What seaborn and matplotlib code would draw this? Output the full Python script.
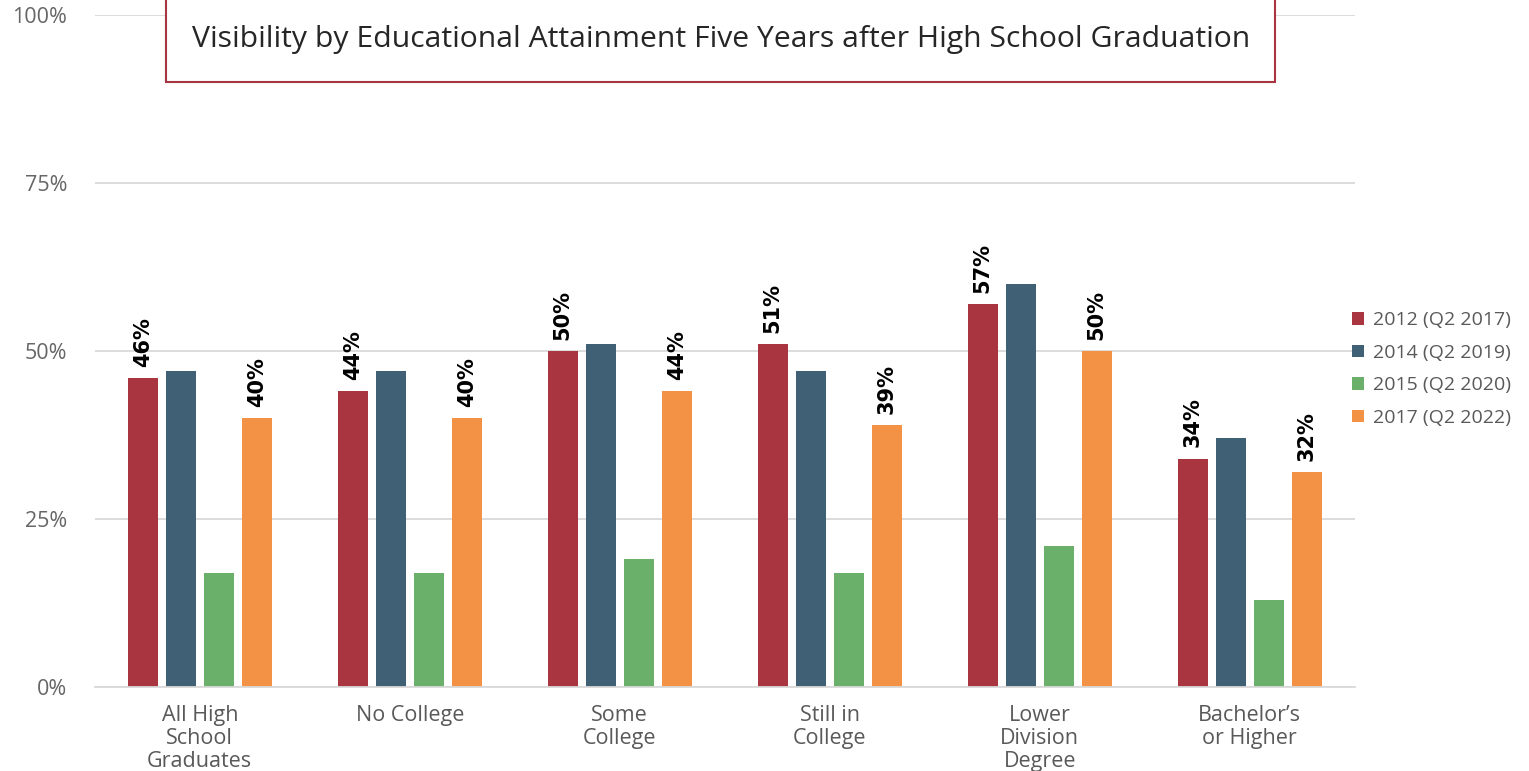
import matplotlib
matplotlib.use("Agg")
import matplotlib.pyplot as plt
import seaborn as sns
import pandas as pd
from matplotlib.patches import Rectangle

categories = ["All High\nSchool\nGraduates", "No College", "Some\nCollege", "Still in\nCollege",
              "Lower\nDivision\nDegree", "Bachelor\u2019s\nor Higher"]
series_names = ["2012 (Q2 2017)", "2014 (Q2 2019)", "2015 (Q2 2020)", "2017 (Q2 2022)"]
v2012 = [46, 44, 50, 51, 57, 34]
v2014 = [47, 47, 51, 47, 60, 37]
v2015 = [17, 17, 19, 17, 21, 13]
v2017 = [40, 40, 44, 39, 50, 32]
labeled_series = ["2012 (Q2 2017)", "2017 (Q2 2022)"]
yticks = [0, 25, 50, 75, 100]
title_line = "Visibility by Educational Attainment Five Years after High School Graduation"
colors = ["#A93540", "#3F6075", "#6AAF6A", "#F39244"]

rows = []
for name, vals in zip(series_names, [v2012, v2014, v2015, v2017]):
    for c, v in zip(categories, vals):
        rows.append({"cat": c, "series": name, "val": v / 100})
df = pd.DataFrame(rows)

sns.set_theme(style="white")
plt.rcParams['font.family'] = ['Open Sans', 'DejaVu Sans']

fig = plt.figure(figsize=(15.29, 7.71), dpi=100)
ax = fig.add_axes([0.062, 0.109, 0.824, 0.8715])
sns.barplot(data=df, x="cat", y="val", hue="series", palette=colors, order=categories,
            hue_order=series_names, width=0.724, gap=0.21, ax=ax, saturation=1, legend=True,
            linewidth=0)

ax.set_ylim(0, 1)
ax.set_yticks([t / 100 for t in yticks])
ax.set_yticklabels([f"{t}%" for t in yticks], color="#666666", fontsize=15.5)
ax.yaxis.grid(True, color="#D9D9D9", linewidth=1.3)
ax.set_axisbelow(True)
for s in ["top", "right", "left"]:
    ax.spines[s].set_visible(False)
ax.spines["bottom"].set_color("#D9D9D9")
ax.spines["bottom"].set_linewidth(1.3)
ax.tick_params(axis="y", length=0, pad=20)
ax.tick_params(axis="x", length=0, pad=13)
ax.set_xlabel("")
ax.set_ylabel("")
for lbl in ax.get_xticklabels():
    lbl.set_color("#595959")
    lbl.set_fontsize(15.5)
    lbl.set_linespacing(1.12)

for cont, name in zip(ax.containers, series_names):
    if name in labeled_series:
        ax.bar_label(cont, labels=[f"{int(round(b.get_height()*100))}%" for b in cont],
                     rotation=90, padding=8, fontsize=15, fontweight="bold", color="black",
                     family=['Liberation Sans Narrow', 'DejaVu Sans'])

leg = ax.legend(loc="center left", bbox_to_anchor=(0.984, 0.473), frameon=False,
                fontsize=14, handlelength=0.6, handleheight=0.6, labelspacing=0.75,
                handletextpad=0.5)
for t in leg.get_texts():
    t.set_color("#595959")

fig.patches.append(Rectangle((166 / 1529, 1 - 82 / 771), (1275 - 166) / 1529, 0.2,
                             transform=fig.transFigure, facecolor="white",
                             edgecolor="#A93540", linewidth=1.5, zorder=5))
fig.text(721 / 1529, 1 - 40 / 771, title_line, ha="center", va="center", fontsize=21.7,
         color="#262626", zorder=6)

fig.savefig("out.png", dpi=100)
